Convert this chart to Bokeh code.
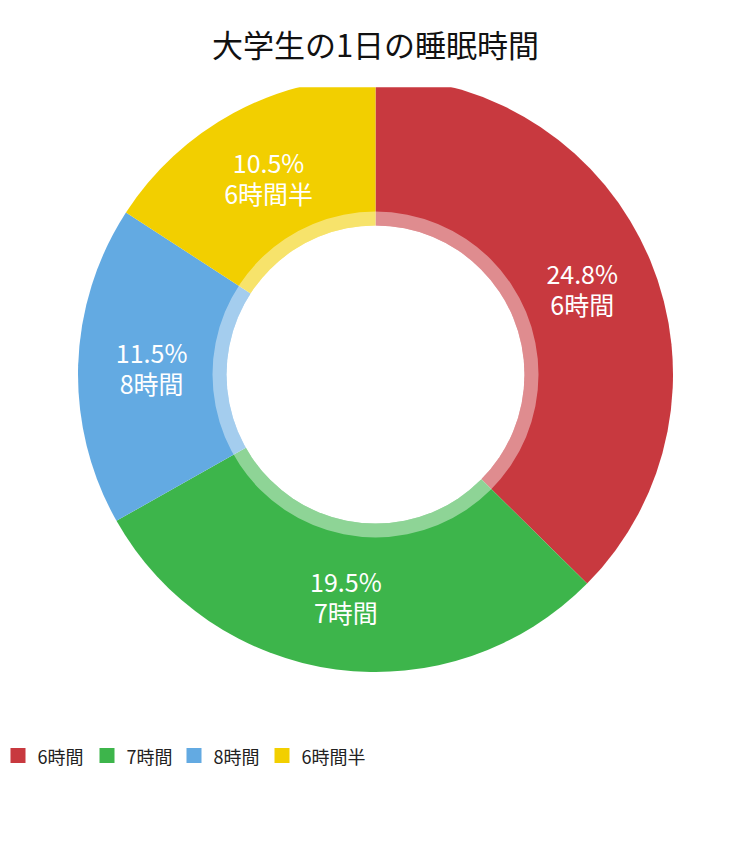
import numpy as np
from bokeh.plotting import figure
from bokeh.models import Range1d
from bokeh.core.properties import value
from bokeh.embed import file_html
from bokeh.resources import INLINE

# ---- data ----
title = "大学生の1日の睡眠時間"
categories = ["6時間", "7時間", "8時間", "6時間半"]
percents = [24.8, 19.5, 11.5, 10.5]
colors = ["#C8393F", "#3DB54B", "#63AAE2", "#F2CF00"]

# ---- layout (page pixels) ----
W, H = 742, 857
FONT = "Noto Sans CJK JP"


def X(px):
    return px


def Y(py):
    return H - py


p = figure(width=W, height=H, x_range=Range1d(0, W), y_range=Range1d(0, H),
           output_backend="svg", toolbar_location=None, min_border=0)
p.axis.visible = False
p.grid.visible = False
p.outline_line_color = None
p.background_fill_color = "white"
p.border_fill_color = "white"

cx, cy = X(375), Y(374)
R_out, R_ring, R_in, R_lab = 297.5, 163, 149, 224

frac = np.array(percents) / sum(percents)
cum = np.concatenate([[0.0], np.cumsum(frac)])
start = np.pi / 2 - 2 * np.pi * cum[:-1]
end = np.pi / 2 - 2 * np.pi * cum[1:]

p.wedge(x=[cx] * len(percents), y=[cy] * len(percents), radius=R_out,
        start_angle=list(start), end_angle=list(end), direction="clock",
        fill_color=colors, line_color=None)

# translucent inner ring and hole
p.annulus(x=[cx], y=[cy], inner_radius=R_in, outer_radius=R_ring,
          fill_color="white", fill_alpha=0.42, line_color=None)
p.circle(x=[cx], y=[cy], radius=R_in, fill_color="white", line_color=None)

# clip area above the plot frame
p.quad(left=[0], right=[W], bottom=[Y(86.7)], top=[H], fill_color="white", line_color=None)

# title
p.text(x=[X(375)], y=[Y(43)], text=[title], text_align="center", text_baseline="middle",
       text_font=value(FONT), text_font_size="31px", text_color="#111111")

# slice labels (two lines)
mid = (cum[:-1] + cum[1:]) / 2
theta = np.pi / 2 - 2 * np.pi * mid
lx = cx + R_lab * np.cos(theta)
ly = cy + R_lab * np.sin(theta)
pct_text = [f"{v}%" for v in percents]
half = 15.5
p.text(x=list(lx), y=list(ly + half), text=pct_text, text_align="center", text_baseline="middle",
       text_font=value(FONT), text_font_size="25px", text_color="white")
p.text(x=list(lx), y=list(ly - half), text=categories, text_align="center", text_baseline="middle",
       text_font=value(FONT), text_font_size="25px", text_color="white")

# legend
leg_left = [10, 99, 186, 274]
leg_y = 755
sq = 15
p.rect(x=[X(l + sq / 2) for l in leg_left], y=[Y(leg_y)] * len(leg_left),
       width=sq, height=sq, fill_color=colors, line_color=None)
p.text(x=[X(l + 27) for l in leg_left], y=[Y(leg_y)] * len(leg_left), text=categories,
       text_align="left", text_baseline="middle",
       text_font=value(FONT), text_font_size="18px", text_color="#222222")

open("out.html", "w").write(file_html(p, INLINE))
